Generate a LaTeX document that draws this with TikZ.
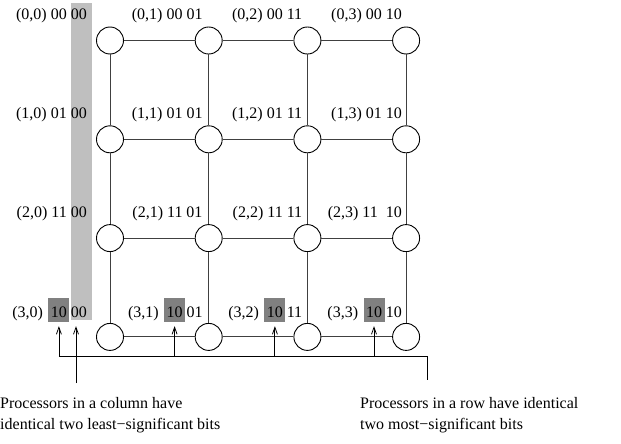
\documentclass[tikz,border=0pt]{standalone}
\usepackage{fontspec}
\setmainfont{Liberation Serif}
\usetikzlibrary{arrows.meta,positioning}
\tikzset{
  proc/.style  ={draw,circle,minimum size=27pt,inner sep=0pt,line width=0.9pt},
  link/.style  ={draw=black!75,line width=0.9pt},
  addr/.style  ={inner sep=0pt,anchor=base east},
  msb/.style   ={fill=gray,inner xsep=2.5pt,inner ysep=3pt,text height=16pt,text depth=1.5pt,anchor=base east},
  lsbcol/.style={fill=gray!50},
  up/.style    ={-{Straight Barb[length=7pt,width=5pt]},line width=0.8pt},
  note/.style  ={align=left,inner sep=0pt,anchor=north west},
}

\begin{document}
\begin{tikzpicture}[x=1pt,y=-1pt,font=\fontsize{16}{21}\selectfont]
  \useasboundingbox (0,0) rectangle (621,444);
  % shaded column of low bits
  \fill[lsbcol] (71,3) rectangle (92,320);
  % processors and mesh links
  \foreach \r in {0,...,3}
    \foreach \c in {0,...,3}
      \node[proc] (p\r\c) at ({110+98.7*\c},{40.5+98.8*\r}) {};
  \foreach \r in {0,...,3}
    \foreach \c/\n in {0/1,1/2,2/3}
      \draw[link] (p\r\c) -- (p\r\n);
  \foreach \r/\n in {0/1,1/2,2/3}
    \foreach \c in {0,...,3}
      \draw[link] (p\r\c) -- (p\n\c);
  % addresses
  \foreach \r/\rb in {0/00,1/01,2/11}
    \foreach \c/\cb/\dx in {0/00/-23,1/01/-6,2/11/-5,3/10/-4}{
      \ifnum\r\c=23 \def\gap{\ \ }\else\def\gap{\ }\fi
      \node[addr] (a\r\c) at ([shift={(\dx,-20.5)}]p\r\c.center) {(\r,\c) \rb\gap\cb};
    }
  \foreach \c/\cb/\dx in {0/00/-23,1/01/-6,2/11/-5,3/10/-4}{
    \node[addr] (l3\c) at ([shift={(\dx,-19.5)}]p3\c.center) {\cb};
    \node[msb] (m3\c) at ([xshift=-1pt]l3\c.base west) {10};
    \node[addr] (a3\c) at ([xshift=-5pt]m3\c.base west) {(3,\c)};
  }
  % pointers
  \coordinate (busR) at (427,356);
  \coordinate (busE) at (427,380);
  \coordinate (colfoot) at (76,383);
  \draw[line width=0.8pt] (m30.south |- busR) -- (busR) -- (busE);
  \foreach \c in {0,...,3}
    \draw[up,shorten >=4pt] (m3\c.south |- busR) -- (m3\c.south);
  \draw[up,shorten >=4pt] (colfoot) -- (colfoot |- m30.south);
  \node[note] (colnote) at (0,397) {Processors in a column have\\identical two least−significant bits};
  \node[note] (rownote) at (360,397) {Processors in a row have identical\\two most−significant bits};
\end{tikzpicture}
\end{document}
